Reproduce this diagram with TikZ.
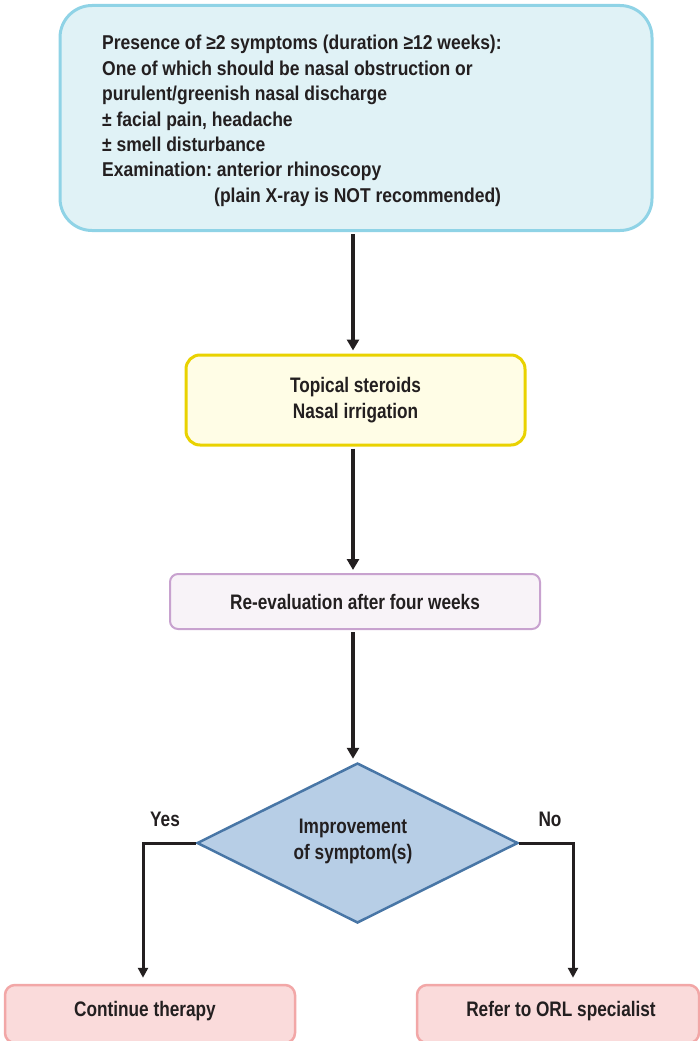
\documentclass[tikz,border=0pt]{standalone}
\usepackage{fontspec}
\setmainfont{Liberation Sans}[FakeStretch=0.82]
\newfontfamily\critfont{Liberation Sans}[FakeStretch=0.875]
\usetikzlibrary{shapes.geometric,arrows.meta}

\definecolor{ink}{HTML}{231F20}
\definecolor{cyanfill}{HTML}{E0F2F6}
\definecolor{cyanline}{HTML}{8FD3E6}
\definecolor{yelfill}{HTML}{FFFDE6}
\definecolor{yelline}{HTML}{E9D200}
\definecolor{purfill}{HTML}{F8F3F8}
\definecolor{purline}{HTML}{C8A2CF}
\definecolor{bluefill}{HTML}{B7CEE6}
\definecolor{blueline}{HTML}{4876A6}
\definecolor{pinkfill}{HTML}{FADBDB}
\definecolor{pinkline}{HTML}{F2A7A7}

\tikzset{
  txt/.style={text=ink, font=\fontsize{21}{26}\selectfont\bfseries\frenchspacing, align=center},
  stagebox/.style={txt, rectangle, inner sep=0pt},
  flowarrow/.style={draw=ink, line width=4pt,
    -{Triangle[width=12pt,length=11pt]}, shorten <=2pt, shorten >=3pt},
  branch/.style={draw=ink, line width=3pt, miter limit=10,
    -{Triangle[width=10pt,length=10pt]}, shorten >=6pt},
}

\begin{document}
\begin{tikzpicture}[x=1pt,y=-1pt]
\useasboundingbox (0,0) rectangle (700,1041);

% criteria box and its text
\node[stagebox, draw=cyanline, fill=cyanfill, line width=3pt,
      rounded corners=32pt, minimum width=592pt, minimum height=225pt]
  (crit) at (356,118) {};
\node[txt, anchor=west, align=left, inner sep=0pt,
      font=\critfont\fontsize{20}{25.4}\selectfont\bfseries\frenchspacing]
  (crittxt) at (102,121) {Presence of ≥2 symptoms (duration ≥12 weeks):\\
  One of which should be nasal obstruction or\\
  purulent/greenish nasal discharge\\
  ± facial pain, headache\\
  ± smell disturbance\\
  Examination: anterior rhinoscopy\\
  \hspace*{112pt}(plain X-ray is NOT recommended)};

% treatment
\node[stagebox, draw=yelline, fill=yelfill, line width=3pt,
      rounded corners=14pt, minimum width=339pt, minimum height=90pt]
  (treat) at (355.5,400) {Topical steroids\\Nasal irrigation};

% re-evaluation
\node[stagebox, draw=purline, fill=purfill, line width=2pt,
      rounded corners=8pt, minimum width=370pt, minimum height=55pt]
  (reeval) at (355,601.5) {Re-evaluation after four weeks};

% decision
\node[diamond, aspect=2, draw=blueline, fill=bluefill, line width=2.5pt,
      minimum width=321pt, minimum height=160pt, inner sep=0pt]
  (dec) at (357.5,843) {};
\node[txt] (dectxt) at (353,841) {Improvement\\of symptom(s)};

% outcomes
\node[stagebox, draw=pinkline, fill=pinkfill, line width=2.5pt,
      rounded corners=10pt, minimum width=290pt, minimum height=58pt]
  (cont) at (150,1014) {};
\node[txt] (conttxt) at (145,1011) {Continue therapy};
\node[stagebox, draw=pinkline, fill=pinkfill, line width=2.5pt,
      rounded corners=10pt, minimum width=282pt, minimum height=58pt]
  (refer) at (558,1014) {};
\node[txt] (refertxt) at (561,1011) {Refer to ORL specialist};

% main flow, all on one vertical
\coordinate (axis) at (353,0);
\draw[flowarrow] (axis |- crit.south) -- (axis |- treat.north);
\draw[flowarrow] (axis |- treat.south) -- (axis |- reeval.north);
\draw[flowarrow] (axis |- reeval.south) -- (axis |- dec.north);

% branches
\coordinate (yesx) at (143,0);
\coordinate (nox) at (573,0);
\draw[branch] (dec.west) -| (yesx |- cont.north);
\draw[branch] (dec.east) -| (nox |- refer.north);
\node[txt] (yes) at (165,819) {Yes};
\node[txt] (no) at (550,819) {No};
\end{tikzpicture}
\end{document}
